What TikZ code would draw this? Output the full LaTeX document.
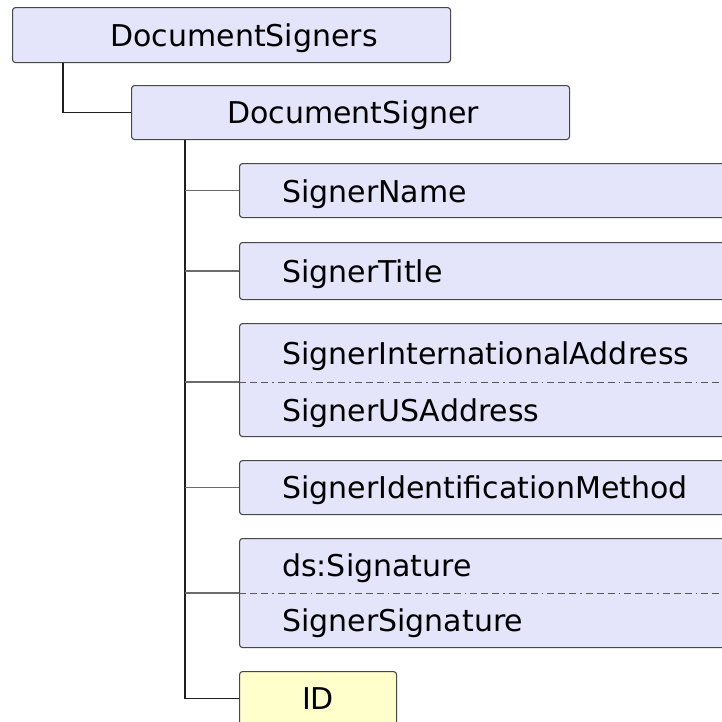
\documentclass[tikz,border=0pt]{standalone}
\usepackage{fontspec}
\setmainfont{DejaVu Sans}
\definecolor{elemfill}{RGB}{228,228,250}
\definecolor{attrfill}{RGB}{255,255,204}
\begin{document}
\begin{tikzpicture}[x=1pt,y=-1pt,
  elem/.style={draw=black!72, line width=1.1pt, rounded corners=3pt,
    fill=elemfill, inner sep=0pt, anchor=north west},
  attr/.style={elem, fill=attrfill},
  lbl/.style={inner sep=0pt, anchor=base west, font=\fontsize{30}{36}\selectfont},
  clbl/.style={lbl, anchor=base},
  trunkline/.style={draw=black!88, line width=1.2pt},
  branch/.style={draw=black!58, line width=1.2pt},
  sepline/.style={draw=black!65, line width=0.9pt,
    dash pattern=on 7pt off 4pt on 7pt off 4pt on 7pt off 4pt on 1.5pt off 4pt}]
\useasboundingbox (0,0) rectangle (722,721);
\clip (0,0) rectangle (722,721);

% element boxes
\node[elem, minimum width=438, minimum height=55] (signers) at (12,7) {};
\node[elem, minimum width=438, minimum height=54] (signer) at (131,85) {};
\node[elem, minimum width=560, minimum height=54] (name) at (239,163) {};
\node[elem, minimum width=560, minimum height=57] (title) at (239,242) {};
\node[elem, minimum width=560, minimum height=113] (addrbox) at (239,323) {};
\node[elem, minimum width=560, minimum height=54] (ident) at (239,460) {};
\node[elem, minimum width=560, minimum height=109] (sig) at (239,538) {};
\node[attr, minimum width=157, minimum height=54] (id) at (239,671) {};

% choice separators
\coordinate (addr) at (239,382);
\draw[sepline] (addr) -- (addrbox.east |- addr);
\draw[sepline] (sig.west) -- (sig.east);

% labels
\node[clbl] (tsigners) at (244,46) {DocumentSigners};
\node[clbl] (tsigner) at (353,123) {DocumentSigner};
\node[lbl] (tname) at (282,202) {SignerName};
\node[lbl] (ttitle) at (282,282) {SignerTitle};
\node[lbl] (tintl) at (282,364) {SignerInternationalAddress};
\node[lbl] (tus) at (282,421) {SignerUSAddress};
\node[lbl] (tident) at (282,498) {SignerIdentificationMethod};
\node[lbl] (tds) at (282,576) {ds:Signature};
\node[lbl] (tsig) at (282,631) {SignerSignature};
\node[clbl] (tid) at (318,709) {ID};

% connectors
\draw[trunkline] ([xshift=51pt]signers.south west) |- (signer.west);
\coordinate (trunk) at ([xshift=54pt]signer.south west);
\draw[trunkline] (trunk) |- (id.west);
\foreach \c in {name.west,title.west,addr,ident.west,sig.west}
  \draw[branch] (trunk |- \c) -- (\c);
\end{tikzpicture}
\end{document}
